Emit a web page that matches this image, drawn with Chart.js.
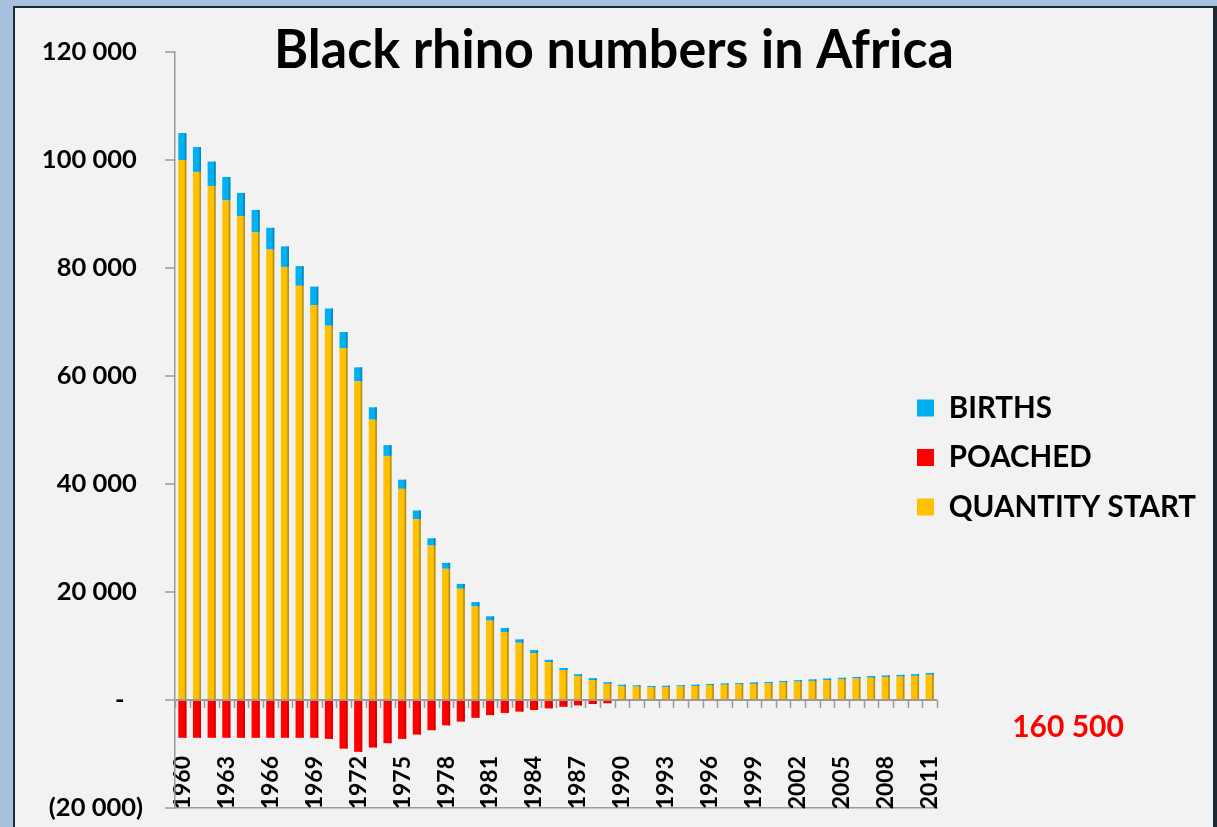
<!DOCTYPE html>
<html><head><meta charset="utf-8">
<script src="https://cdn.jsdelivr.net/npm/chart.js@4.4.1/dist/chart.umd.min.js"></script>
<style>
html,body{margin:0;padding:0;width:1217px;height:827px;overflow:hidden;background:#A7C0DE;}
#panel{position:absolute;left:13px;top:6px;width:1198px;height:900px;background:#F2F2F2;border-left:2px solid #1E2833;border-top:2px solid #1E2833;border-right:4px solid #1E2833;}
#c{position:absolute;left:0;top:0;}
</style></head><body>
<div id="panel"></div>
<canvas id="c" width="1217" height="827"></canvas>
<script>
const categories = ['1960','1961','1962','1963','1964','1965','1966','1967','1968','1969',
  '1970','1971','1972','1973','1974','1975','1976','1977','1978','1979',
  '1980','1981','1982','1983','1984','1985','1986','1987','1988','1989',
  '1990','1991','1992','1993','1994','1995','1996','1997','1998','1999',
  '2000','2001','2002','2003','2004','2005','2006','2007','2008','2009','2010','2011'];
const quantityStart = [100000, 97800, 95200, 92500, 89600, 86600, 83400, 80200, 76700, 73100,
  69300, 65200, 59000, 51900, 45200, 39100, 33500, 28600, 24300, 20600,
  17300, 14700, 12600, 10600, 8700, 7000, 5500, 4400, 3700, 3000,
  2550, 2480, 2350, 2400, 2500, 2590, 2710, 2820, 2870, 2980, 3070,
  3250, 3400, 3530, 3690, 3810, 3970, 4120, 4230, 4340, 4460, 4680];
const births = [5000, 4600, 4500, 4350, 4300, 4150, 4050, 3800, 3650, 3450,
  3200, 2950, 2600, 2300, 2000, 1700, 1600, 1350, 1100, 900,
  850, 800, 740, 630, 550, 430, 420, 370, 340, 300,
  280, 250, 240, 240, 240, 250, 250, 260, 260, 270, 270,
  280, 280, 290, 290, 300, 300, 310, 310, 320, 320, 330];
const poached = [-7000, -7000, -7000, -7000, -7000, -7000, -7000, -7000, -7000, -7000,
  -7200, -9000, -9600, -8800, -8000, -7200, -6400, -5600, -4700, -4000,
  -3300, -2800, -2400, -2150, -1850, -1550, -1250, -1000, -750, -600,
  0, 0, 0, 0, 0, 0, 0, 0, 0, 0, 0,
  0, 0, 0, 0, 0, 0, 0, 0, 0, 0, 0];
const seriesNames = ['QUANTITY START', 'BIRTHS', 'POACHED'];
const legendOrder = ['BIRTHS', 'POACHED', 'QUANTITY START'];
const titleText = 'Black rhino numbers in Africa';
const totalPoachedLabel = '160 500';

function fmt(v) {
  if (v === 0) return '-   ';
  const s = Math.abs(v).toString().replace(/\B(?=(\d{3})+(?!\d))/g, ' ');
  return v < 0 ? '(' + s + ')' : s + ' ';
}

Chart.defaults.font.family = 'Lato';
Chart.defaults.font.weight = 'bold';
Chart.defaults.color = '#000';

const LEGEND_FONT = 29.5, LEGEND_PAD = 20;

const decor = {
  id: 'decor',
  afterLayout(chart) {
    const t = chart.titleBlock;
    if (t) {
      t.left = 614 - 340; t.right = 614 + 340; t.width = 680;
      const h = t.height; t.top = 25; t.bottom = 25 + h;
    }
    const lg = chart.legend;
    if (lg) {
      lg.left = 917 - LEGEND_PAD; lg.width = 300; lg.right = lg.left + 300;
      lg.top = 408 - LEGEND_FONT / 2 - LEGEND_PAD; lg.height = 240; lg.bottom = lg.top + 240;
    }
  },
  afterDatasetsDraw(chart) {
    const ctx = chart.ctx;
    const shades = ['#B58F22', '#0A86B8', '#D00000'];
    ctx.save();
    [0, 1, 2].forEach(di => {
      const meta = chart.getDatasetMeta(di);
      meta.data.forEach(el => {
        const p = el.getProps(['x', 'y', 'base', 'width'], true);
        const top = Math.min(p.y, p.base), h = Math.abs(p.base - p.y);
        if (h < 0.5) return;
        ctx.fillStyle = shades[di];
        ctx.fillRect(p.x + p.width / 2 - 1.6, top, 1.6, h);
      });
    });
    const xs = chart.scales.x, ys = chart.scales.y;
    const step = xs.getPixelForValue(1) - xs.getPixelForValue(0);
    const y0 = ys.getPixelForValue(0);
    ctx.strokeStyle = '#9A9A9A';
    ctx.lineWidth = 1.5;
    for (let i = 0; i <= categories.length; i++) {
      const x = Math.round(xs.getPixelForValue(0) - step / 2 + i * step) + 0.5;
      ctx.beginPath(); ctx.moveTo(x, y0); ctx.lineTo(x, y0 + 8); ctx.stroke();
    }
    ctx.restore();
  },
  afterDraw(chart) {
    const ctx = chart.ctx;
    const ys = chart.scales.y;
    ctx.save();
    ctx.font = 'bold 30px Lato';
    ctx.fillStyle = '#FF0000';
    ctx.textAlign = 'center';
    ctx.textBaseline = 'middle';
    ctx.fillText(totalPoachedLabel, chart.chartArea.right + 131, ys.getPixelForValue(-5000));
    ctx.restore();
  }
};

new Chart(document.getElementById('c'), {
  type: 'bar',
  data: {
    labels: categories,
    datasets: [
      { label: seriesNames[0], data: quantityStart, backgroundColor: '#FFC000', borderWidth: 0, stack: 's' },
      { label: seriesNames[1], data: births, backgroundColor: '#00B0F0', borderWidth: 0, stack: 's' },
      { label: seriesNames[2], data: poached, backgroundColor: '#FF0000', borderWidth: 0, stack: 's' }
    ]
  },
  options: {
    responsive: false,
    animation: false,
    events: [],
    layout: { padding: { left: 0, top: 0, right: 280, bottom: 0 } },
    datasets: { bar: { barPercentage: 0.55, categoryPercentage: 1.0 } },
    plugins: {
      title: {
        display: true, text: titleText, color: '#000',
        font: { size: 53, weight: 'bold', lineHeight: 52 / 53 },
        padding: 0
      },
      legend: {
        position: 'chartArea', align: 'start',
        labels: {
          boxWidth: 17, boxHeight: 17, padding: LEGEND_PAD,
          font: { size: LEGEND_FONT, weight: 'bold' }, color: '#000',
          sort: (a, b) => legendOrder.indexOf(a.text) - legendOrder.indexOf(b.text)
        }
      },
      tooltip: { enabled: false }
    },
    scales: {
      x: {
        stacked: true,
        grid: { display: false, drawTicks: false },
        border: { display: true, color: '#9A9A9A', width: 1.5 },
        ticks: {
          autoSkip: false, minRotation: 90, maxRotation: 90,
          mirror: true, padding: 52, labelOffset: 23,
          font: { size: 23, weight: 'bold', lineHeight: 1 }, color: '#000',
          callback: (v, i) => (i % 3 === 0 ? categories[i] : '')
        },
        afterFit: s => { s.height = 19; s.paddingLeft = 0; s.paddingRight = 0; }
      },
      y: {
        stacked: true, min: -20000, max: 120000,
        grid: {
          color: c => (c.tick && c.tick.value === 0 ? '#9A9A9A' : 'rgba(0,0,0,0)'),
          lineWidth: 2, tickColor: '#9A9A9A', tickLength: 10, tickWidth: 1.5
        },
        border: { display: true, color: '#9A9A9A', width: 1.5 },
        ticks: {
          stepSize: 20000, padding: 22,
          font: { size: 25.5, weight: 'bold' }, color: '#000',
          callback: v => fmt(v)
        },
        afterFit: s => { s.width = 175; s.paddingTop = 0; s.paddingBottom = 0; }
      }
    }
  },
  plugins: [decor]
});
</script>
</body></html>
